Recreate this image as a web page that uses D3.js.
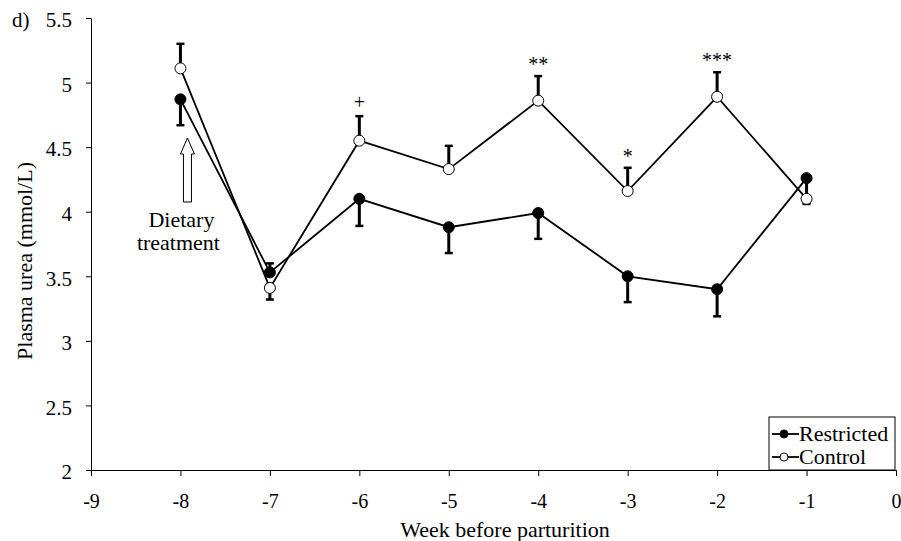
<!DOCTYPE html>
<html>
<head>
<meta charset="utf-8">
<script src="https://cdn.jsdelivr.net/npm/d3@7"></script>
<style>
  body { margin: 0; background: #fff; }
  svg text { font-family: "Liberation Serif", "Times New Roman", "DejaVu Serif", serif !important; fill: #000; }
</style>
</head>
<body>
<script>
let weeks = [-8, -7, -6, -5, -4, -3, -2, -1];
let restricted = [4.87, 3.53, 4.10, 3.88, 3.99, 3.50, 3.40, 4.26];
let restrictedErr = [4.67, 3.60, 3.89, 3.68, 3.79, 3.30, 3.19, 4.07];
let control = [5.11, 3.41, 4.55, 4.33, 4.86, 4.16, 4.89, 4.10];
let controlErr = [5.30, 3.32, 4.74, 4.51, 5.05, 4.34, 5.08, 4.06];
let signif = [["+", -6], ["**", -4], ["*", -3], ["***", -2]];
let xTicks = [-9, -8, -7, -6, -5, -4, -3, -2, -1, 0];
let yTicks = [2, 2.5, 3, 3.5, 4, 4.5, 5, 5.5];

let width = 901;
let height = 541;
let serif = "'Liberation Serif', 'Times New Roman', serif";

let x = d3.scaleLinear().domain([-9, 0]).range([91, 896]);
let y = d3.scaleLinear().domain([2, 5.5]).range([470, 18]);

let svg = d3.select("body").append("svg").attr("width", width).attr("height", height)
    .attr("font-family", serif);

// axes
svg.append("g").attr("transform", "translate(0,470)")
    .call(d3.axisBottom(x).tickValues(xTicks).tickSize(6).tickSizeOuter(0).tickFormat(d => String(d)))
    .call(g => g.attr("font-family", serif).attr("font-size", 20))
    .call(g => g.select(".domain").attr("stroke", "#000"))
    .call(g => g.selectAll("text").attr("y", 19).attr("dy", "0.95em"));

svg.append("g").attr("transform", "translate(91,0)")
    .call(d3.axisLeft(y).tickValues(yTicks).tickSize(5).tickSizeOuter(0).tickFormat(d => d))
    .call(g => g.attr("font-family", serif).attr("font-size", 21))
    .call(g => g.selectAll("text").attr("x", -19).attr("dy", "0.42em"));

svg.append("text").attr("x", 505).attr("y", 537).attr("text-anchor", "middle")
    .attr("font-size", 22).text("Week before parturition");

svg.append("text").attr("transform", "translate(32,261) rotate(-90)").attr("text-anchor", "middle")
    .attr("font-size", 22).text("Plasma urea (mmol/L)");

svg.append("text").attr("x", 12).attr("y", 27).attr("font-size", 21).text("d)");

let line = d3.line().x(d => x(d[0])).y(d => y(d[1]));

function drawSeries(vals, errs, fill) {
    let pts = weeks.map((w, i) => [w, vals[i]]);
    svg.append("path").datum(pts).attr("d", line)
        .attr("fill", "none").attr("stroke", "#000").attr("stroke-width", 1.8);
    let g = svg.append("g");
    weeks.forEach((w, i) => {
        g.append("line").attr("x1", x(w)).attr("x2", x(w))
            .attr("y1", y(vals[i])).attr("y2", y(errs[i]))
            .attr("stroke", "#000").attr("stroke-width", 3);
        g.append("line").attr("x1", x(w) - 4).attr("x2", x(w) + 4)
            .attr("y1", y(errs[i])).attr("y2", y(errs[i]))
            .attr("stroke", "#000").attr("stroke-width", 2.5);
    });
    svg.append("g").selectAll("circle").data(pts).enter().append("circle")
        .attr("cx", d => x(d[0])).attr("cy", d => y(d[1])).attr("r", 5.5)
        .attr("fill", fill).attr("stroke", "#000").attr("stroke-width", 1);
}

drawSeries(restricted, restrictedErr, "#000");
drawSeries(control, controlErr, "#fff");

// significance marks above control error bars
svg.selectAll("text.sig").data(signif).enter().append("text")
    .attr("class", "sig")
    .attr("x", d => x(d[1]))
    .attr("y", d => y(controlErr[weeks.indexOf(d[1])]) - (d[0] === "+" ? 7 : 5))
    .attr("text-anchor", "middle").attr("font-size", 20)
    .text(d => d[0]);

// dietary treatment arrow
let ax = x(-8) + 7;
svg.append("path")
    .attr("d", `M${ax},138 L${ax + 7},154 L${ax + 4},154 L${ax + 4},202 L${ax - 4},202 L${ax - 4},154 L${ax - 7},154 Z`)
    .attr("fill", "#fff").attr("stroke", "#000").attr("stroke-width", 1);
svg.append("text").attr("x", ax - 6).attr("y", 227).attr("text-anchor", "middle").attr("font-size", 22).text("Dietary");
svg.append("text").attr("x", ax - 9).attr("y", 250).attr("text-anchor", "middle").attr("font-size", 22).text("treatment");

// legend
let lg = svg.append("g");
lg.append("rect").attr("x", 769).attr("y", 417).attr("width", 126).attr("height", 53)
    .attr("fill", "#fff").attr("stroke", "#000").attr("stroke-width", 1);
let items = [["Restricted", "#000"], ["Control", "#fff"]];
items.forEach((it, i) => {
    let yy = 434 + i * 23;
    lg.append("line").attr("x1", 772).attr("x2", 799).attr("y1", yy).attr("y2", yy)
        .attr("stroke", "#000").attr("stroke-width", 1.8);
    lg.append("circle").attr("cx", 784).attr("cy", yy).attr("r", 4)
        .attr("fill", it[1]).attr("stroke", "#000");
    lg.append("text").attr("x", 799).attr("y", yy + 7).attr("font-size", 22).text(it[0]);
});
</script>
</body>
</html>
